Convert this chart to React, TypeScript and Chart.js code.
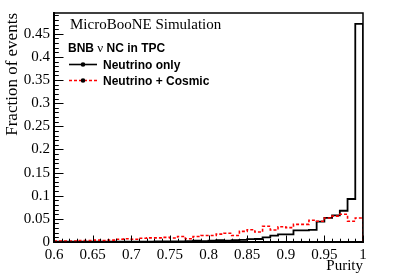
import React, { useEffect, useRef } from "react";
import { Chart, registerables } from "chart.js";

Chart.register(...registerables);

// ---- data ----
const binLowEdges = [
  0.60, 0.61, 0.62, 0.63, 0.64, 0.65, 0.66, 0.67, 0.68, 0.69,
  0.70, 0.71, 0.72, 0.73, 0.74, 0.75, 0.76, 0.77, 0.78, 0.79,
  0.80, 0.81, 0.82, 0.83, 0.84, 0.85, 0.86, 0.87, 0.88, 0.89,
  0.90, 0.91, 0.92, 0.93, 0.94, 0.95, 0.96, 0.97, 0.98, 0.99,
];
const lastBinUpperEdge = 1.0;

const neutrinoOnly = [
  0.0005, 0.0005, 0.0005, 0.0005, 0.0005, 0.0005, 0.0008, 0.0005, 0.0008, 0.0008,
  0.001, 0.001, 0.001, 0.0012, 0.0012, 0.0015, 0.0015, 0.002, 0.003, 0.002,
  0.003, 0.004, 0.003, 0.004, 0.0045, 0.006, 0.0065, 0.010, 0.0136, 0.0165,
  0.0165, 0.025, 0.025, 0.026, 0.044, 0.052, 0.0575, 0.0675, 0.093, 0.4715,
];

const neutrinoCosmic = [
  0.002, 0.002, 0.002, 0.003, 0.003, 0.004, 0.003, 0.004, 0.006, 0.007,
  0.006, 0.008, 0.009, 0.009, 0.010, 0.0086, 0.012, 0.007, 0.012, 0.014,
  0.014, 0.017, 0.019, 0.014, 0.023, 0.0265, 0.0215, 0.034, 0.026, 0.033,
  0.031, 0.038, 0.038, 0.047, 0.045, 0.052, 0.056, 0.060, 0.045, 0.052,
];

const seriesLabels = ["Neutrino only", "Neutrino + Cosmic"];
const xTitle = "Purity";
const yTitle = "Fraction of events";
const headerText = "MicroBooNE Simulation";
const legendHeader = ["BNB ", "\u03bd", " NC in TPC"];

const X_MIN = 0.6;
const X_MAX = 1.0;
const Y_MIN = 0;
const Y_MAX = 0.495;

function histPoints(values: number[]) {
  const pts = binLowEdges.map((x, i) => ({ x, y: values[i] }));
  pts.push({ x: lastBinUpperEdge, y: values[values.length - 1] });
  pts.push({ x: lastBinUpperEdge, y: 0 });
  return pts;
}

function fmt(v: number) {
  return String(parseFloat(Number(v).toFixed(2)));
}

const SERIF = "'Liberation Serif', 'Times New Roman', serif";
const SANS = "'Liberation Sans', Arial, sans-serif";

const rootDecor = {
  id: "rootDecor",
  afterDatasetsDraw(chart: any) {
    const { ctx, chartArea: a, scales } = chart;
    const x = scales.x;
    const y = scales.y;
    ctx.save();
    ctx.strokeStyle = "#000";
    ctx.lineWidth = 1;
    // x ticks (major every 0.05, minor every 0.01)
    const nx = Math.round((X_MAX - X_MIN) / 0.01);
    for (let i = 0; i <= nx; i++) {
      const v = X_MIN + i * 0.01;
      const px = Math.round(x.getPixelForValue(v)) + 0.5;
      const len = i % 5 === 0 ? 6.5 : 3.3;
      ctx.beginPath();
      ctx.moveTo(px, a.bottom);
      ctx.lineTo(px, a.bottom - len);
      ctx.stroke();
    }
    // y ticks
    const ny = Math.floor((Y_MAX - Y_MIN) / 0.01 + 1e-6);
    for (let i = 0; i <= ny; i++) {
      const v = Y_MIN + i * 0.01;
      const py = Math.round(y.getPixelForValue(v)) + 0.5;
      const len = i % 5 === 0 ? 9.5 : 4.8;
      ctx.beginPath();
      ctx.moveTo(a.left, py);
      ctx.lineTo(a.left + len, py);
      ctx.stroke();
    }
    // frame
    ctx.lineWidth = 1.5;
    ctx.strokeRect(a.left, a.top, a.right - a.left, a.bottom - a.top);
    ctx.restore();
  },
  afterDraw(chart: any) {
    const { ctx } = chart;
    ctx.save();
    ctx.fillStyle = "#000";
    ctx.textBaseline = "alphabetic";
    ctx.textAlign = "left";
    // header
    ctx.font = `15px ${SERIF}`;
    ctx.fillText(headerText, 70, 29);
    // legend header
    let lx = 68;
    ctx.font = `bold 12px ${SANS}`;
    ctx.fillText(legendHeader[0], lx, 51.5);
    lx += ctx.measureText(legendHeader[0]).width;
    ctx.font = `13px ${SERIF}`;
    ctx.fillText(legendHeader[1], lx, 51.5);
    lx += ctx.measureText(legendHeader[1]).width;
    ctx.font = `bold 12px ${SANS}`;
    ctx.fillText(legendHeader[2], lx, 51.5);

    // legend entries
    const entries = [
      { label: seriesLabels[0], color: "#000", dash: [] as number[], y: 64.5 },
      { label: seriesLabels[1], color: "#ff0000", dash: [3, 2], y: 80.5 },
    ];
    for (const e of entries) {
      ctx.strokeStyle = e.color;
      ctx.lineWidth = 1.6;
      ctx.setLineDash(e.dash);
      ctx.beginPath();
      ctx.moveTo(69, e.y);
      ctx.lineTo(97, e.y);
      ctx.stroke();
      ctx.setLineDash([]);
      ctx.fillStyle = "#000";
      ctx.beginPath();
      ctx.arc(83, e.y, 2.3, 0, Math.PI * 2);
      ctx.fill();
      ctx.font = `bold 12px ${SANS}`;
      ctx.fillText(e.label, 103, e.y + 4);
    }
    ctx.restore();
  },
};

export default function App() {
  const ref = useRef<HTMLCanvasElement | null>(null);

  useEffect(() => {
    if (!ref.current) return;
    const chart = new Chart(ref.current, {
      type: "line",
      data: {
        datasets: [
          {
            label: seriesLabels[0],
            data: histPoints(neutrinoOnly),
            borderColor: "#000000",
            borderWidth: 1.8,
            stepped: "before",
            pointRadius: 0,
            fill: false,
            order: 1,
          },
          {
            label: seriesLabels[1],
            data: histPoints(neutrinoCosmic),
            borderColor: "#ff0000",
            borderWidth: 1.6,
            borderDash: [3, 2],
            stepped: "before",
            pointRadius: 0,
            fill: false,
            order: 0,
          },
        ],
      },
      options: {
        responsive: false,
        animation: false,
        events: [],
        layout: { padding: { top: 13, right: 44, left: 0, bottom: 0 } },
        plugins: {
          legend: { display: false },
          tooltip: { enabled: false },
          title: { display: false },
        },
        scales: {
          x: {
            type: "linear",
            min: X_MIN,
            max: X_MAX,
            grid: { display: false, drawTicks: false },
            border: { display: true, color: "#000", width: 2 },
            ticks: {
              stepSize: 0.05,
              autoSkip: false,
              maxRotation: 0,
              includeBounds: false,
              color: "#000",
              padding: 4,
              font: { family: SERIF, size: 15 },
              callback: (v: any) => fmt(v),
            },
            title: {
              display: true,
              text: xTitle,
              align: "end",
              color: "#000",
              font: { family: SERIF, size: 15 },
              padding: { top: 0, bottom: 2 },
            },
            afterFit: (s: any) => {
              s.height = 35;
            },
          },
          y: {
            type: "linear",
            min: Y_MIN,
            max: Y_MAX,
            grid: { display: false, drawTicks: false },
            border: { display: true, color: "#000", width: 2 },
            ticks: {
              stepSize: 0.05,
              includeBounds: false,
              autoSkip: false,
              color: "#000",
              padding: 4,
              font: { family: SERIF, size: 15 },
              callback: (v: any) => fmt(v),
            },
            title: {
              display: true,
              text: yTitle,
              align: "end",
              color: "#000",
              font: { family: SERIF, size: 17 },
              padding: { top: 2.4, bottom: 0 },
            },
            afterFit: (s: any) => {
              s.width = 54;
            },
          },
        },
      },
      plugins: [rootDecor],
    } as any);
    return () => chart.destroy();
  }, []);

  return (
    <div style={{ position: "fixed", left: 0, top: 0, width: 407, height: 277, background: "#fff" }}>
      <canvas ref={ref} width={407} height={277} style={{ display: "block", width: 407, height: 277 }} />
    </div>
  );
}
